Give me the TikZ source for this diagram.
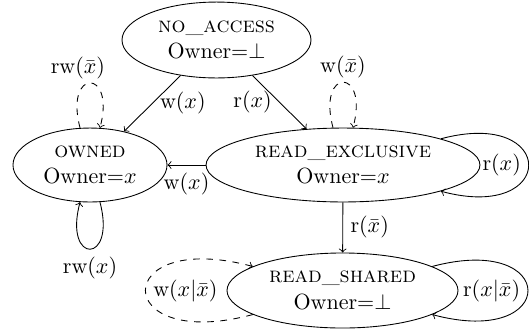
\documentclass[tikz,border=0pt]{standalone}
\usetikzlibrary{shapes.geometric}
\begin{document}
\begin{tikzpicture}[x=0.4545pt,y=-0.4545pt,
  state/.style={draw,ellipse,inner sep=0pt,align=center},
  trans/.style={->},
  opttrans/.style={->,dashed}]
\useasboundingbox (0,0) rectangle (529,335);
\node[state,minimum width=85.9pt,minimum height=34.5pt] (na) at (216.5,40) {\textsc{no\_access}\\Owner=$\bot$};
\node[state,minimum width=70pt,minimum height=33.6pt] (ow) at (90,165) {\textsc{owned}\\Owner=$x$};
\node[state,minimum width=124.5pt,minimum height=33.6pt] (re) at (343,165) {\textsc{read\_exclusive}\\Owner=$x$};
\node[state,minimum width=105pt,minimum height=34.1pt] (rs) at (342.5,290.5) {\textsc{read\_shared}\\Owner=$\bot$};
% transitions
\draw[trans] (na) -- node[right] {w$(x)$} (ow);
\draw[trans] (na) -- node[left] {r$(x)$} (re);
\draw[trans] (re) -- node[below] {w$(x)$} (ow);
\draw[trans] (re) -- node[right] {r$(\bar{x})$} (rs);
% loops
\draw[opttrans] (ow.105) .. controls +(105:28.2pt) and +(75:28.2pt) .. node[above,xshift=-5.5pt,yshift=-1.8pt] {rw$(\bar{x})$} (ow.75);
\draw[trans] (ow.285) .. controls +(285:29.5pt) and +(255:29.5pt) .. node[below] {rw$(x)$} (ow.255);
\draw[opttrans] (re.105) .. controls +(105:28.5pt) and +(75:28.5pt) .. node[above,yshift=-1.8pt] {w$(\bar{x})$} (re.75);
\draw[trans] (re.15) .. controls +(15:55pt) and +(-15:55pt) .. node[left] {r$(x)$} (re.-15);
\draw[trans] (rs.15) .. controls +(15:60pt) and +(-15:60pt) .. node[left] {r$(x|\bar{x})$} (rs.-15);
\draw[opttrans] (rs.195) .. controls +(195:67.3pt) and +(165:67.3pt) .. node[right] {w$(x|\bar{x})$} (rs.165);
\end{tikzpicture}
\end{document}
